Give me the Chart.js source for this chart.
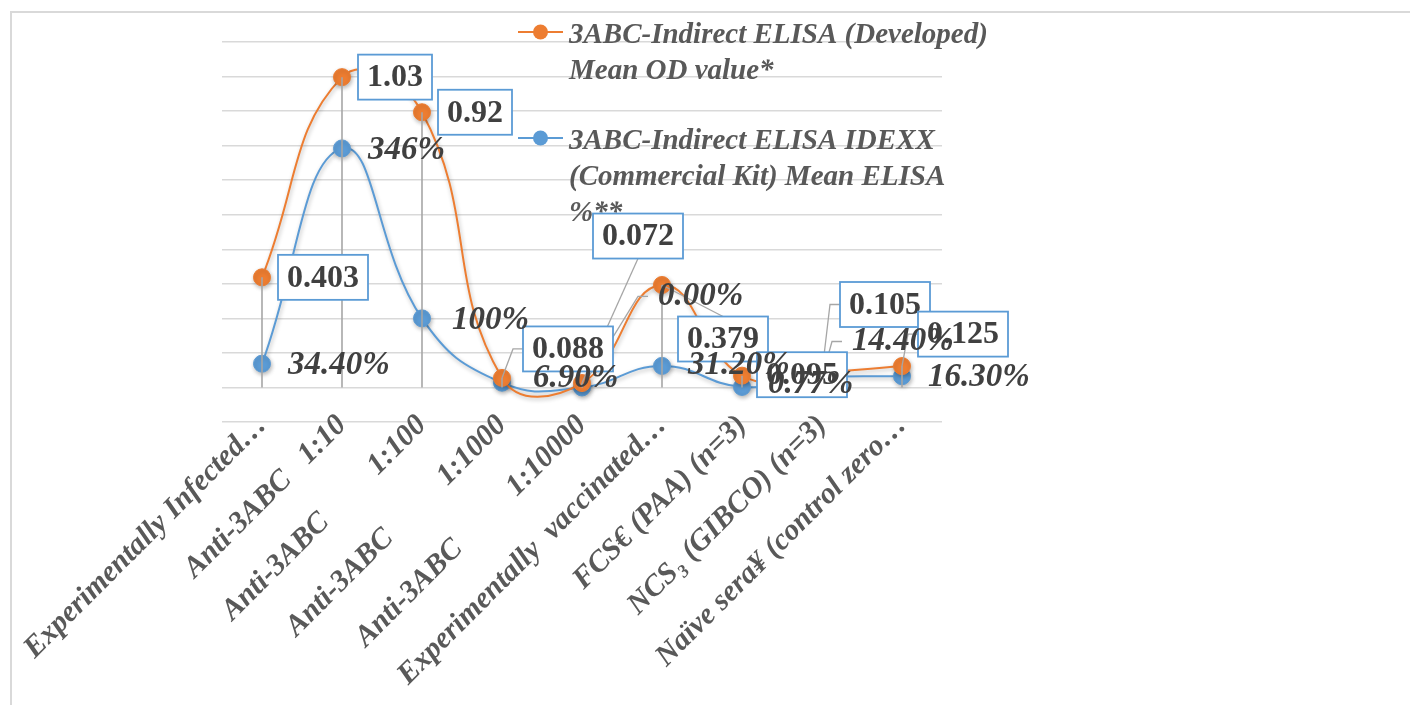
<!DOCTYPE html>
<html>
<head>
<meta charset="utf-8">
<script src="https://cdn.jsdelivr.net/npm/chart.js@4.4.1/dist/chart.umd.min.js"></script>
<style>
  html, body { margin: 0; padding: 0; background: #ffffff; }
  canvas { display: block; }
</style>
</head>
<body>
<canvas id="chart" width="1410" height="705"></canvas>
<script>
// ---- data ----
const categories = [
  'Experimentally Infected…',
  'Anti-3ABC   1:10',
  'Anti-3ABC         1:100',
  'Anti-3ABC          1:1000',
  'Anti-3ABC          1:10000',
  'Experimentally  vaccinated…',
  'FCS€ (PAA) (n=3)',
  'NCS₃ (GIBCO) (n=3)',
  'Naïve sera¥ (control zero…'
];
const seriesNames = [
  '3ABC-Indirect ELISA (Developed)\nMean OD value*',
  '3ABC-Indirect ELISA IDEXX\n(Commercial Kit) Mean ELISA\n%**'
];
// mean OD value of the developed indirect ELISA
const meanOD = [0.403, 1.03, 0.92, 0.088, 0.072, 0.379, 0.095, 0.105, 0.125];
// mean ELISA % of the IDEXX commercial kit
const meanPercent = [34.4, 346, 100, 6.9, 0, 31.2, 0.77, 14.4, 16.3];

// ---- label placement: [left edge offset, middle offset] from each point, and leader style ----
const odLabelShift  = [[16, 0], [16, 0], [16, 0], [21, -29], [11, -147], [16, 54], [15, -1], [18, -68], [16, -32]];
const odLeader      = ['', '', '', 'left', 'bottom', 'top', '', 'left', 'left'];
const pctLabelShift = [[26, 2], [26, 2], [30, 2], [31, -4], [76, -91], [26, 0], [26, -2], [30, -36], [26, 1]];
const pctLeader     = ['', '', '', '', 'left', '', '', 'left', ''];

const ORANGE = '#ED7D31';
const BLUE = '#5B9BD5';
const TEXT_GREY = '#595959';
const LABEL_DARK = '#404040';
const SERIF = '"Liberation Serif", "Times New Roman", serif';

const fmtOD = v => String(v);
const fmtPct = v => (v >= 100 ? v.toFixed(0) : v.toFixed(2)) + '%';

// page frame (top and left edges only)
const framePlugin = {
  id: 'frame',
  beforeDraw(chart) {
    const ctx = chart.ctx;
    ctx.save();
    ctx.fillStyle = '#ffffff';
    ctx.fillRect(0, 0, chart.width, chart.height);
    ctx.strokeStyle = '#d9d9d9';
    ctx.lineWidth = 2;
    ctx.beginPath();
    ctx.moveTo(11, chart.height);
    ctx.lineTo(11, 12);
    ctx.lineTo(chart.width, 12);
    ctx.stroke();
    ctx.restore();
  }
};

// category labels sit on the zero line, so let their band start above the plot bottom
const labelBandPlugin = {
  id: 'labelBand',
  afterLayout(chart) {
    chart.scales.x.top -= 40;
  }
};

// soft shadow under series lines and markers
const shadowPlugin = {
  id: 'seriesShadow',
  beforeDatasetDraw(chart) {
    const ctx = chart.ctx;
    ctx.save();
    ctx.shadowColor = 'rgba(0,0,0,0.28)';
    ctx.shadowBlur = 4;
    ctx.shadowOffsetX = 1;
    ctx.shadowOffsetY = 2;
  },
  afterDatasetDraw(chart) {
    chart.ctx.restore();
  }
};

// legend with wrapped entries, floating in the upper right of the plot
const legendPlugin = {
  id: 'wrappedLegend',
  beforeDatasetsDraw(chart) {
    const ctx = chart.ctx;
    const x0 = 518, lineLen = 45, textX = 569, lineGap = 36;
    const rows = [32, 138];
    ctx.save();
    chart.data.datasets.forEach((ds, i) => {
      const y = rows[i];
      ctx.strokeStyle = ds.borderColor;
      ctx.lineWidth = 2;
      ctx.beginPath();
      ctx.moveTo(x0, y);
      ctx.lineTo(x0 + lineLen, y);
      ctx.stroke();
      ctx.fillStyle = ds.backgroundColor;
      ctx.beginPath();
      ctx.arc(x0 + lineLen / 2, y, 7.5, 0, Math.PI * 2);
      ctx.fill();
      ctx.fillStyle = TEXT_GREY;
      ctx.font = 'italic 700 29px ' + SERIF;
      ctx.textAlign = 'left';
      ctx.textBaseline = 'alphabetic';
      ds.label.split('\n').forEach((line, k) => {
        ctx.fillText(line, textX, y + 10.5 + k * lineGap);
      });
    });
    ctx.restore();
  }
};

// drop lines, leader lines and value labels
const valueLabelPlugin = {
  id: 'valueLabels',
  afterDatasetsDraw(chart) {
    const ctx = chart.ctx;
    const odMeta = chart.getDatasetMeta(0);
    const pctMeta = chart.getDatasetMeta(1);
    const zeroY = chart.scales.yPct.getPixelForValue(0);
    ctx.save();

    // drop lines from the highest point of each category down to the zero line
    ctx.strokeStyle = '#a6a6a6';
    ctx.lineWidth = 1.6;
    odMeta.data.forEach((pt, i) => {
      const top = Math.min(pt.y, pctMeta.data[i].y);
      if (top < zeroY) {
        ctx.beginPath();
        ctx.moveTo(pt.x, top);
        ctx.lineTo(pt.x, zeroY);
        ctx.stroke();
      }
    });

    const odFont = '700 32px ' + SERIF;
    const pctFont = 'italic 700 33px ' + SERIF;
    const boxH = 45, padX = 9;

    const odBoxes = odMeta.data.map((pt, i) => {
      ctx.font = odFont;
      const text = fmtOD(meanOD[i]);
      const w = ctx.measureText(text).width + padX * 2;
      const left = pt.x + odLabelShift[i][0];
      const midY = pt.y + odLabelShift[i][1];
      return { pt, text, left, midY, w };
    });
    const pctTexts = pctMeta.data.map((pt, i) => {
      const text = fmtPct(meanPercent[i]);
      const left = pt.x + pctLabelShift[i][0];
      const midY = pt.y + pctLabelShift[i][1];
      return { pt, text, left, midY };
    });

    // leader lines
    ctx.strokeStyle = '#a6a6a6';
    ctx.lineWidth = 1.3;
    const leader = (sx, sy, ex, ey, elbow) => {
      ctx.beginPath();
      ctx.moveTo(sx, sy);
      if (elbow) ctx.lineTo(sx - 10, sy);
      ctx.lineTo(ex, ey);
      ctx.stroke();
    };
    odBoxes.forEach((b, i) => {
      if (odLeader[i] === 'left') leader(b.left, b.midY, b.pt.x, b.pt.y, true);
      if (odLeader[i] === 'bottom') leader(b.left + b.w / 2, b.midY + boxH / 2, b.pt.x, b.pt.y, false);
      if (odLeader[i] === 'top') leader(b.left + b.w / 2, b.midY - boxH / 2, b.pt.x, b.pt.y, false);
    });
    pctTexts.forEach((t, i) => {
      if (pctLeader[i] === 'left') leader(t.left - 10, t.midY, t.pt.x, t.pt.y, true);
    });

    // boxed OD labels
    ctx.textAlign = 'left';
    ctx.textBaseline = 'middle';
    odBoxes.forEach(b => {
      ctx.fillStyle = '#ffffff';
      ctx.fillRect(b.left, b.midY - boxH / 2, b.w, boxH);
      ctx.strokeStyle = BLUE;
      ctx.lineWidth = 1.8;
      ctx.strokeRect(b.left, b.midY - boxH / 2, b.w, boxH);
      ctx.font = odFont;
      ctx.fillStyle = LABEL_DARK;
      ctx.fillText(b.text, b.left + padX, b.midY + 1);
    });

    // percentage labels
    ctx.font = pctFont;
    ctx.fillStyle = LABEL_DARK;
    pctTexts.forEach(t => {
      ctx.fillText(t.text, t.left, t.midY);
    });
    ctx.restore();
  }
};

new Chart(document.getElementById('chart'), {
  type: 'line',
  data: {
    labels: categories,
    datasets: [
      {
        label: seriesNames[0],
        data: meanOD,
        yAxisID: 'yOD',
        borderColor: ORANGE,
        backgroundColor: ORANGE,
        pointBackgroundColor: ORANGE,
        pointBorderColor: ORANGE,
        borderWidth: 2,
        pointRadius: 8.5,
        pointBorderWidth: 1,
        tension: 0.45,
        fill: false
      },
      {
        label: seriesNames[1],
        data: meanPercent,
        yAxisID: 'yPct',
        borderColor: BLUE,
        backgroundColor: BLUE,
        pointBackgroundColor: BLUE,
        pointBorderColor: BLUE,
        borderWidth: 2,
        pointRadius: 8.5,
        pointBorderWidth: 1,
        tension: 0.45,
        fill: false
      }
    ]
  },
  options: {
    responsive: false,
    animation: false,
    events: [],
    layout: { padding: { left: 222, right: 468, top: 42, bottom: 0 } },
    plugins: {
      legend: { display: false },
      tooltip: { enabled: false },
      title: { display: false }
    },
    scales: {
      x: {
        type: 'category',
        offset: true,
        grid: { display: false },
        border: { display: false },
        ticks: {
          autoSkip: false,
          minRotation: 45,
          maxRotation: 45,
          padding: 18,
          color: TEXT_GREY,
          font: { family: SERIF, size: 30, style: 'italic', weight: 'bold' }
        },
        afterFit(scale) {
          scale.height = 283;
          scale.paddingLeft = 0;
          scale.paddingRight = 0;
        }
      },
      yPct: {
        position: 'left',
        min: -50,
        max: 500,
        ticks: { stepSize: 50, display: false },
        grid: { color: '#d9d9d9', lineWidth: 1.4, drawTicks: false },
        border: { display: false },
        afterFit(scale) { scale.width = 0; }
      },
      yOD: {
        position: 'right',
        min: -0.05,
        max: 1.14,
        display: false
      }
    }
  },
  plugins: [framePlugin, labelBandPlugin, legendPlugin, shadowPlugin, valueLabelPlugin]
});
</script>
</body>
</html>
